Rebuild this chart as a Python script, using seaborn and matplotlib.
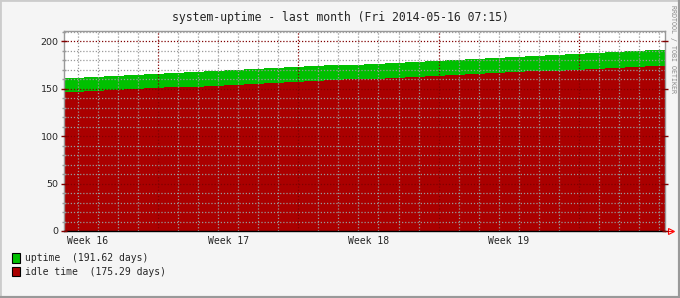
import numpy as np
import pandas as pd
import matplotlib
matplotlib.use("Agg")
import matplotlib.pyplot as plt
import matplotlib.dates as mdates
import matplotlib.ticker as mticker
from matplotlib.patches import Rectangle
from matplotlib.lines import Line2D
import seaborn as sns

# ---------------- data ----------------
title = "system-uptime - last month (Fri 2014-05-16 07:15)"
start_time = "2014-04-16 07:15"
end_time = "2014-05-16 07:15"
series_names = ["uptime", "idle time"]
current_values = [191.62, 175.29]
uptime_days = [161.62, 162.62, 163.62, 164.62, 165.62, 166.62, 167.62, 168.62,
               169.62, 170.62, 171.62, 172.62, 173.62, 174.62, 175.62, 176.62,
               177.62, 178.62, 179.62, 180.62, 181.62, 182.62, 183.62, 184.62,
               185.62, 186.62, 187.62, 188.62, 189.62, 190.62, 191.62]
idle_days = [146.6, 147.7, 148.6, 149.6, 150.5, 151.4, 152.4, 153.3,
             154.3, 155.2, 156.1, 157.1, 158.0, 158.9, 159.9, 160.8,
             161.7, 162.7, 163.6, 164.5, 165.5, 166.4, 167.3, 168.3,
             169.2, 170.1, 171.1, 172.0, 172.9, 173.9, 175.29]
week_labels = ["Week 16", "Week 17", "Week 18", "Week 19"]
first_week_monday = "2014-04-14"

GREEN = "#00C000"
RED = "#AA0000"
MAJ = "#800000"
MIN = "#999999"
BG = "#F5F5F5"

dates = pd.date_range(start_time, end_time, freq="D")
df = pd.DataFrame({"date": dates, "uptime": uptime_days, "idle": idle_days})

sns.set_style("white")
plt.rcParams["font.family"] = ["DejaVu Sans Mono", "DejaVu Sans"]

W, H = 680, 298
fig = plt.figure(figsize=(W / 100, H / 100), dpi=100, facecolor=BG)
ax = fig.add_axes([64 / W, 1 - 231 / H, 601 / W, 200 / H])
ax.set_facecolor("white")

ax.fill_between(df["date"], 0, df["uptime"], step="post", color=GREEN, lw=0, zorder=1)
ax.fill_between(df["date"], 0, df["idle"], step="post", color=RED, lw=0, zorder=1.1)
sns.lineplot(data=df, x="date", y="uptime", drawstyle="steps-post", color=GREEN,
             lw=0.6, ax=ax, zorder=1.2)
sns.lineplot(data=df, x="date", y="idle", drawstyle="steps-post", color=RED,
             lw=0.6, ax=ax, zorder=1.3)

ax.set_xlim(pd.Timestamp(start_time), pd.Timestamp(end_time))
ax.set_ylim(0, 211)
ax.set_xlabel("")
ax.set_ylabel("")

ax.yaxis.set_major_locator(mticker.MultipleLocator(50))
ax.yaxis.set_minor_locator(mticker.MultipleLocator(10))
ax.xaxis.set_major_locator(mdates.WeekdayLocator(byweekday=mdates.MO))
ax.xaxis.set_minor_locator(mdates.DayLocator())
ax.xaxis.set_major_formatter(mticker.NullFormatter())

ax.set_axisbelow(False)
ax.grid(which="major", color=MAJ, ls=(0, (1, 1.5)), lw=0.9)
ax.grid(which="minor", color=MIN, ls=(0, (1, 1.5)), lw=0.9)

for lab in ax.get_yticklabels():
    lab.set_fontfamily("DejaVu Sans")
ax.tick_params(axis="y", which="major", length=4, direction="inout", color=MAJ,
               width=1, labelsize=6.8, pad=2, right=True, left=True)
ax.tick_params(axis="y", which="minor", length=3, direction="inout", color=MIN,
               width=1, right=False, left=True)
ax.tick_params(axis="x", which="major", length=3, direction="out", color=MAJ, width=1)
ax.tick_params(axis="x", which="minor", length=2, direction="out", color=MIN, width=1)

for s in ["left", "top", "right"]:
    ax.spines[s].set_color("#999999")
    ax.spines[s].set_linewidth(1)
ax.spines["bottom"].set_color("black")
ax.spines["bottom"].set_linewidth(1)

# week labels centred in each week
mondays = pd.date_range(first_week_monday, periods=len(week_labels), freq="7D")
for lab, mon in zip(week_labels, mondays):
    ax.text(mon + pd.Timedelta(hours=84), -0.048, lab, transform=ax.get_xaxis_transform(),
            ha="center", va="center", fontsize=7, family="DejaVu Sans Mono")

# arrow at the end of the x axis
ax.plot([1.0, 1.012], [0, 0], color="red", lw=0.8, transform=ax.transAxes, clip_on=False)
ax.plot([1.01], [0], marker=">", ms=4, mfc="none", mec="red", mew=0.8,
        transform=ax.transAxes, clip_on=False)

# title
fig.text(0.5, 1 - 17 / H, title, ha="center", va="center", fontsize=8.3,
         family="DejaVu Sans Mono")

# right-side credit
fig.text(673 / W, 1 - 5 / H, "RRDTOOL / TOBI OETIKER", rotation=270, ha="center",
         va="top", fontsize=4.8, color="#888888", family="DejaVu Sans Mono")

# legend
for i, (name, val, col) in enumerate(zip(series_names, current_values, [GREEN, RED])):
    ytop = 253.3 + i * 13.4
    fig.add_artist(Rectangle((12 / W, 1 - (ytop + 9.4) / H), 8 / W, 9.4 / H,
                             transform=fig.transFigure, facecolor=col,
                             edgecolor="black", lw=0.8))
    fig.text(25 / W, 1 - (ytop + 5) / H, f"{name}  ({val:.2f} days)", ha="left",
             va="center", fontsize=7, family="DejaVu Sans Mono")

# 3D-ish border
fig.add_artist(Line2D([0, 0], [0, 1], transform=fig.transFigure, color="#CCCCCC", lw=2))
fig.add_artist(Line2D([0, 1], [1, 1], transform=fig.transFigure, color="#CCCCCC", lw=2))
fig.add_artist(Line2D([1, 1], [0, 1], transform=fig.transFigure, color="#999999", lw=3))
fig.add_artist(Line2D([0, 1], [0, 0], transform=fig.transFigure, color="#999999", lw=3))

fig.savefig("out.png", dpi=100, facecolor=BG)
